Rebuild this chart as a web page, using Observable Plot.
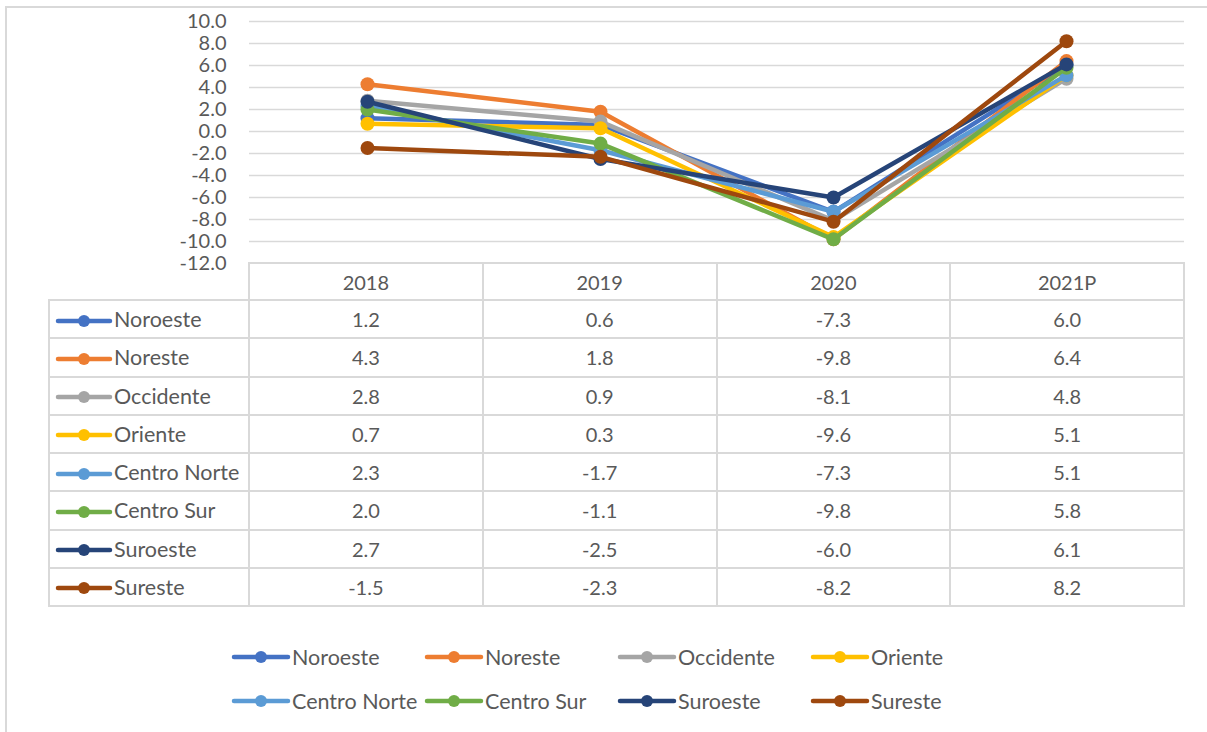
<!DOCTYPE html>
<html>
<head>
<meta charset="utf-8">
<script src="https://cdn.jsdelivr.net/npm/d3@7"></script>
<script src="https://cdn.jsdelivr.net/npm/@observablehq/plot@0.6"></script>
<style>
  html, body { margin: 0; padding: 0; background: #fff; }
  #wrap { position: relative; width: 1207px; height: 732px; overflow: hidden; font-family: Lato, "Noto Sans", sans-serif; color: #595959; }
  #frame { position: absolute; left: 5px; top: 6px; width: 1300px; height: 800px; border-left: 2px solid #d9d9d9; border-top: 2px solid #d9d9d9; }
  #chart { position: absolute; left: 0; top: 0; }
  #tbl { position: absolute; left: 48px; top: 262px; border-collapse: collapse; table-layout: fixed; font-size: 20px; color: #595959; }
  #tbl td { border: 2px solid #d9d9d9; padding: 0; text-align: center; white-space: nowrap; overflow: hidden; }
  #tbl td.lab { text-align: left; padding-left: 5px; font-size: 21.5px; }
  #tbl td.corner { border-top: none; border-left: none; }
  #tbl td.lab svg { vertical-align: middle; margin-right: 1px; position: relative; top: -1px; }
  #legend { position: absolute; left: 231px; top: 643px; display: grid; grid-template-columns: 193px 193px 193px 193px; row-gap: 16px; font-size: 21.5px; color: #595959; }
  .li { display: flex; align-items: center; height: 28px; white-space: nowrap; }
  .li svg { margin-right: 1px; }
</style>
</head>
<body>
<div id="wrap">
  <div id="frame"></div>
  <div id="chart"></div>
  <table id="tbl"></table>
  <div id="legend"></div>
</div>
<script>
const years = ["2018", "2019", "2020", "2021P"];
const regions = ["Noroeste", "Noreste", "Occidente", "Oriente", "Centro Norte", "Centro Sur", "Suroeste", "Sureste"];
const colors = ["#4472C4", "#ED7D31", "#A5A5A5", "#FFC000", "#5B9BD5", "#70AD47", "#264478", "#9E480E"];
const noroeste    = [1.2, 0.6, -7.3, 6.0];
const noreste     = [4.3, 1.8, -9.8, 6.4];
const occidente   = [2.8, 0.9, -8.1, 4.8];
const oriente     = [0.7, 0.3, -9.6, 5.1];
const centroNorte = [2.3, -1.7, -7.3, 5.1];
const centroSur   = [2.0, -1.1, -9.8, 5.8];
const suroeste    = [2.7, -2.5, -6.0, 6.1];
const sureste     = [-1.5, -2.3, -8.2, 8.2];
const yTicks = [-12, -10, -8, -6, -4, -2, 0, 2, 4, 6, 8, 10];

const series = [noroeste, noreste, occidente, oriente, centroNorte, centroSur, suroeste, sureste];
const rows = regions.flatMap((r, i) => years.map((y, j) => ({region: r, year: y, value: series[i][j]})));
const fmt = v => v.toFixed(1);

const marks = [
  Plot.gridY(yTicks.filter(t => t > -12), {stroke: "#d9d9d9", strokeOpacity: 1, strokeWidth: 1.5}),
  Plot.axisY(yTicks, {tickSize: 0, tickPadding: 23, tickFormat: fmt, fill: "#595959", fontSize: 20, label: null})
];
regions.forEach(r => {
  const d = rows.filter(o => o.region === r);
  marks.push(Plot.line(d, {x: "year", y: "value", stroke: "region", strokeWidth: 4.5}));
  marks.push(Plot.dot(d, {x: "year", y: "value", fill: "region", r: 7}));
});

const chart = Plot.plot({
  width: 1207, height: 732,
  marginLeft: 249, marginRight: 23, marginTop: 21, marginBottom: 469,
  x: {type: "point", domain: years, padding: 0.5, axis: null},
  y: {domain: [-12, 10], axis: null},
  color: {domain: regions, range: colors},
  style: {fontFamily: "Lato, 'Noto Sans', sans-serif", fontSize: "20px", color: "#595959", background: "transparent"},
  marks
});
document.getElementById("chart").appendChild(chart);

function swatch(color, w) {
  return `<svg width="${w}" height="16" viewBox="0 0 ${w} 16"><line x1="3" y1="8" x2="${w - 3}" y2="8" stroke="${color}" stroke-width="4.5" stroke-linecap="round"/><circle cx="${w / 2}" cy="8" r="6" fill="${color}"/></svg>`;
}

// data table
const tbl = document.getElementById("tbl");
let html = `<colgroup><col style="width:200px">${years.map(() => '<col style="width:233.75px">').join("")}</colgroup>`;
html += `<tr style="height:37px"><td class="corner"></td>${years.map(y => `<td>${y}</td>`).join("")}</tr>`;
regions.forEach((r, i) => {
  html += `<tr style="height:38.25px"><td class="lab">${swatch(colors[i], 58)}${r}</td>${series[i].map(v => `<td>${fmt(v)}</td>`).join("")}</tr>`;
});
tbl.innerHTML = html;

// legend
const leg = document.getElementById("legend");
leg.innerHTML = regions.map((r, i) => `<div class="li">${swatch(colors[i], 60)}<span>${r}</span></div>`).join("");
</script>
</body>
</html>
